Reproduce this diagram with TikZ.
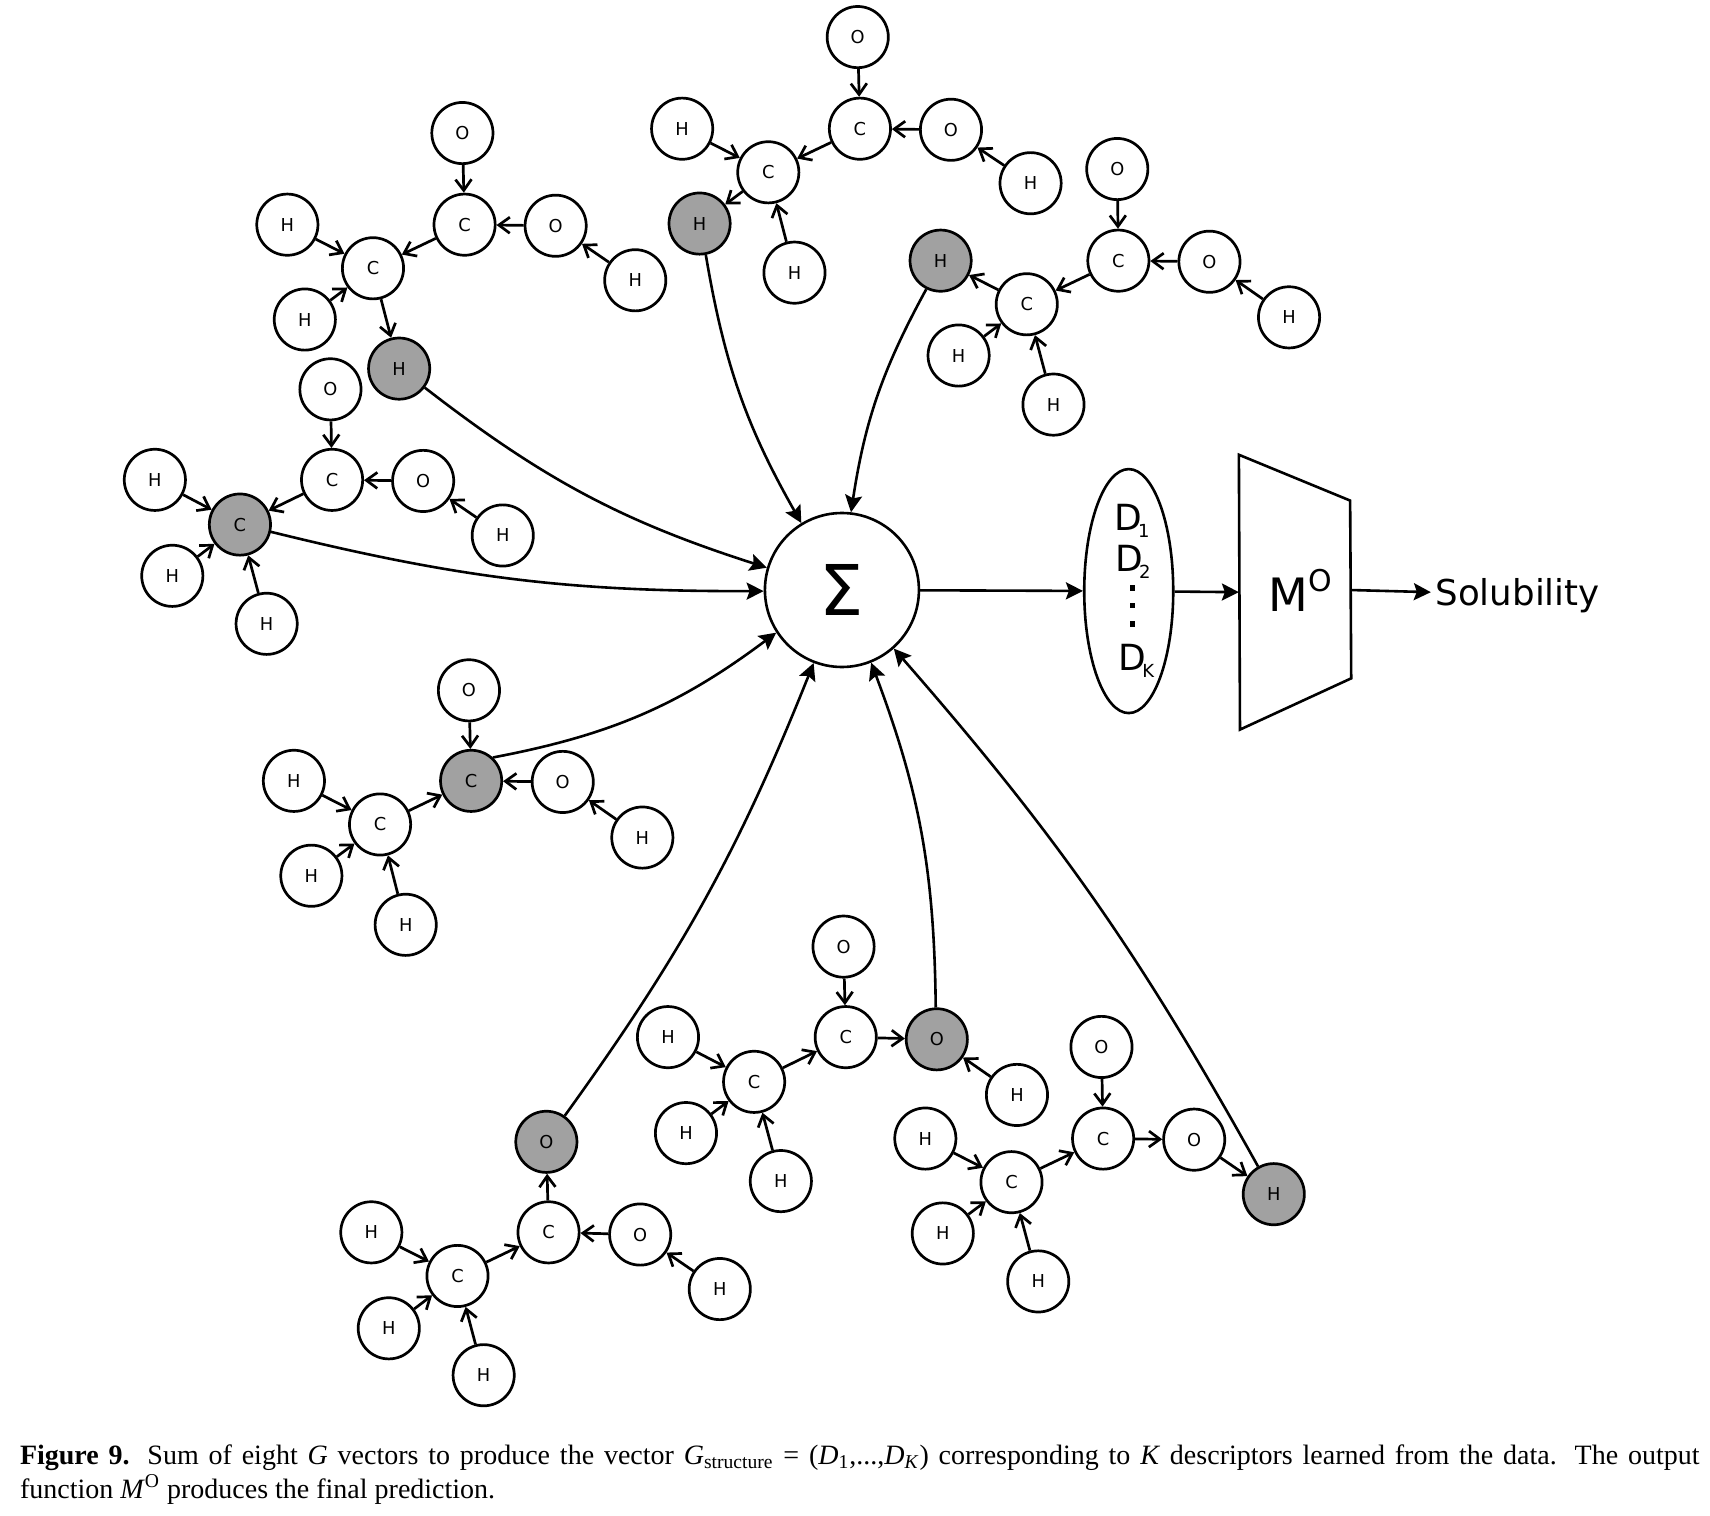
\documentclass[tikz,border=0pt]{standalone}
\usepackage{fontspec}
\setmainfont{DejaVu Sans}
\newfontfamily\capfont{Liberation Serif}
\usetikzlibrary{arrows.meta,shapes.geometric}

\definecolor{atomgray}{gray}{0.63}
\newcommand{\dsub}[1]{\kern-2pt\raisebox{-3.5pt}{\fontsize{9}{9}\selectfont #1}}

\tikzset{
  atom/.style={circle, draw, fill=white, line width=1.35pt, minimum size=30.6pt, inner sep=0pt, font=\fontsize{8.9}{10}\selectfont},
  root/.style={atom, fill=atomgray},
  bond/.style={-{Straight Barb[length=5.5pt,width=8pt,line width=1.35pt]}, line width=1.35pt},
  flow/.style={-{Stealth[length=8.5pt,width=8.5pt,inset=1.5pt]}, line width=1.3pt},
  sumarrow/.style={flow, bend right=#1},
}

\begin{document}
\begin{tikzpicture}[x=0.5453pt, y=-0.5453pt]

\useasboundingbox (0,0) rectangle (1568,1390);

% Top molecule
\node[atom] (a1) at (786.5,34) {O};
\node[atom] (a2) at (788.5,118) {C};
\node[atom] (a3) at (872,119) {O};
\node[atom] (a4) at (945,168) {H};
\node[atom] (a5) at (704.5,158) {C};
\node[atom] (a6) at (625.5,118) {H};
\node[root] (a7) at (641.5,205) {H};
\node[atom] (a8) at (728.5,250) {H};
\foreach \u/\v in {a1/a2,a3/a2,a4/a3,a2/a5,a6/a5,a5/a7,a8/a5}
  \draw[bond] (\u) -- (\v);

% Upper right molecule
\node[atom] (b1) at (1024.5,155) {O};
\node[atom] (b2) at (1025.5,239) {C};
\node[atom] (b3) at (1109,240) {O};
\node[atom] (b4) at (1182,291) {H};
\node[atom] (b5) at (941.5,279) {C};
\node[root] (b6) at (862.5,239) {H};
\node[atom] (b7) at (879,326) {H};
\node[atom] (b8) at (966,371) {H};
\foreach \u/\v in {b1/b2,b3/b2,b4/b3,b2/b5,b5/b6,b7/b5,b8/b5}
  \draw[bond] (\u) -- (\v);

% Upper left molecule
\node[atom] (c1) at (424,122) {O};
\node[atom] (c2) at (426,206) {C};
\node[atom] (c3) at (509.5,207) {O};
\node[atom] (c4) at (582.5,257) {H};
\node[atom] (c5) at (342,246) {C};
\node[atom] (c6) at (263.5,206) {H};
\node[atom] (c7) at (279.5,293) {H};
\node[root] (c8) at (366,338) {H};
\foreach \u/\v in {c1/c2,c3/c2,c4/c3,c2/c5,c6/c5,c7/c5,c5/c8}
  \draw[bond] (\u) -- (\v);

% Left molecule
\node[atom] (d1) at (303,357) {O};
\node[atom] (d2) at (304.5,440) {C};
\node[atom] (d3) at (388,441) {O};
\node[atom] (d4) at (461,491) {H};
\node[root] (d5) at (220,481) {C};
\node[atom] (d6) at (142,440) {H};
\node[atom] (d7) at (158,528) {H};
\node[atom] (d8) at (244.5,572) {H};
\foreach \u/\v in {d1/d2,d3/d2,d4/d3,d2/d5,d6/d5,d7/d5,d8/d5}
  \draw[bond] (\u) -- (\v);

% Lower left molecule
\node[atom] (e1) at (430,633) {O};
\node[root] (e2) at (432,716) {C};
\node[atom] (e3) at (516,717) {O};
\node[atom] (e4) at (589,768) {H};
\node[atom] (e5) at (348.5,756) {C};
\node[atom] (e6) at (269.5,716) {H};
\node[atom] (e7) at (285.5,803) {H};
\node[atom] (e8) at (372,848) {H};
\foreach \u/\v in {e1/e2,e3/e2,e4/e3,e5/e2,e6/e5,e7/e5,e8/e5}
  \draw[bond] (\u) -- (\v);

% Bottom middle molecule
\node[atom] (f1) at (773.5,868) {O};
\node[atom] (f2) at (775.5,951) {C};
\node[root] (f3) at (859,953) {O};
\node[atom] (f4) at (932.5,1004) {H};
\node[atom] (f5) at (691.5,992) {C};
\node[atom] (f6) at (612.5,951) {H};
\node[atom] (f7) at (629,1039) {H};
\node[atom] (f8) at (716,1083) {H};
\foreach \u/\v in {f1/f2,f2/f3,f4/f3,f5/f2,f6/f5,f7/f5,f8/f5}
  \draw[bond] (\u) -- (\v);

% Bottom right molecule
\node[atom] (g1) at (1010,960) {O};
\node[atom] (g2) at (1011.5,1044) {C};
\node[atom] (g3) at (1095,1045) {O};
\node[root] (g4) at (1168,1095) {H};
\node[atom] (g5) at (927.5,1084) {C};
\node[atom] (g6) at (848.5,1044) {H};
\node[atom] (g7) at (864.5,1131) {H};
\node[atom] (g8) at (952,1175) {H};
\foreach \u/\v in {g1/g2,g2/g3,g3/g4,g5/g2,g6/g5,g7/g5,g8/g5}
  \draw[bond] (\u) -- (\v);

% Bottom left molecule
\node[root] (h1) at (501,1047) {O};
\node[atom] (h2) at (503,1130) {C};
\node[atom] (h3) at (587,1132) {O};
\node[atom] (h4) at (660,1182) {H};
\node[atom] (h5) at (419.5,1170) {C};
\node[atom] (h6) at (340.5,1130) {H};
\node[atom] (h7) at (356.5,1218) {H};
\node[atom] (h8) at (443.5,1261) {H};
\foreach \u/\v in {h2/h1,h3/h2,h4/h3,h5/h2,h6/h5,h7/h5,h8/h5}
  \draw[bond] (\u) -- (\v);

% Sum
\node[circle, draw, line width=1.3pt, minimum size=77pt, inner sep=0pt, font=\fontsize{35}{35}\selectfont] (sum) at (772,541) {\raisebox{-1pt}{Σ}};

% Arrows into the sum
\draw[sumarrow=10] (c8) to (sum);
\draw[sumarrow=10] (a7) to (sum);
\draw[sumarrow=10] (b6) to (sum);
\draw[sumarrow=7] (d5) to (sum);
\draw[sumarrow=13] (e2.47) to (sum.213);
\draw[sumarrow=7] (h1) to (sum);
\draw[sumarrow=10] (f3) to (sum);
\draw[sumarrow=6] (g4) to (sum);

% Descriptors
\node[ellipse, draw, line width=1.3pt, minimum width=44.5pt, minimum height=122pt, inner sep=0pt] (desc) at (1035,542) {};
\node[font=\fontsize{18}{18}\selectfont] (d1txt) at (1038,478) {D\dsub{1}};
\node[font=\fontsize{18}{18}\selectfont] (d2txt) at (1039,515) {D\dsub{2}};
\node[font=\fontsize{18}{18}\selectfont] (dktxt) at (1042,606) {D\dsub{K}};
\foreach \i/\y in {1/539,2/555,3/572}
  \fill (1036,\y-2.5) rectangle (1041,\y+2.5);

% Output function
\coordinate (mtl) at (1136,417);
\coordinate (mtr) at (1238,459);
\coordinate (mbr) at (1239,622);
\coordinate (mbl) at (1137,669);
\coordinate (mleft) at (1136,543);
\coordinate (mright) at (1238,541);
\draw[line width=1.3pt, line join=miter] (mtl) -- (mtr) -- (mbr) -- (mbl) -- cycle;
\node[font=\fontsize{23}{23}\selectfont] (mo) at (1192,541) {M\raisebox{10pt}{\fontsize{15}{15}\selectfont O}};

% Output
\node[anchor=west, inner sep=0pt, font=\fontsize{17.8}{18}\selectfont] (sol) at (1316,546) {Solubility};
\coordinate (solin) at (1312,543);

\draw[flow] (sum) -- (desc);
\draw[flow] (desc) -- (mleft);
\draw[flow] (mright) -- (solin);

% Caption
\node[anchor=north west, inner sep=0pt, text width=839.8pt, align=justify, font=\capfont\fontsize{14}{17}\selectfont] (caption) at (18,1324)
  {\textbf{Figure 9.} Sum of eight \textit{G} vectors to produce the vector \textit{G}\textsubscript{structure} = (\textit{D}\textsubscript{1},...,\textit{D}\textsubscript{\textit{K}}) corresponding to \textit{K} descriptors learned from the data. The output\linebreak function \textit{M}\textsuperscript{O} produces the final prediction.};

\end{tikzpicture}
\end{document}
